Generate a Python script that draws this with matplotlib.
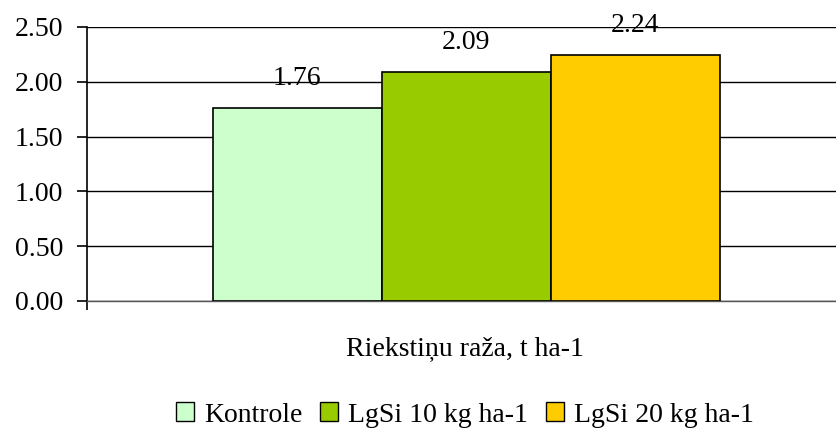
import matplotlib
matplotlib.use("Agg")
import matplotlib.pyplot as plt
from matplotlib.patches import Patch

plt.rcParams["font.family"] = ["Liberation Serif", "DejaVu Serif"]

variants = ["Kontrole", "LgSi 10 kg ha-1", "LgSi 20 kg ha-1"]
yields = [1.76, 2.09, 2.24]
colors = ["#CCFFCC", "#99CC00", "#FFCC00"]
yticks = [0.0, 0.5, 1.0, 1.5, 2.0, 2.5]
category = "Riekstiņu raža, t ha-1"

W, H = 836, 430
FS = 20
fig = plt.figure(figsize=(W / 100, H / 100), dpi=100)
ax = fig.add_axes([87 / W, 1 - 301 / H, (836 - 87) / W, (301 - 27) / H])

xs = range(len(yields))
ax.bar(xs, yields, width=1.0, color=colors, edgecolor="black", linewidth=1.2, zorder=3)
for x, v in zip(xs, yields):
    ax.annotate(f"{v:.2f}", (x, v), xytext=(0, 21.5), textcoords="offset points",
                ha="center", va="center", fontsize=FS, zorder=4)

ax.set_ylim(0, 2.5)
ax.set_xlim(-1.243, 3.189)
ax.set_yticks(yticks)
ax.set_yticklabels([f"{t:.2f}" for t in yticks], fontsize=FS)
ax.yaxis.grid(True, color="black", linewidth=1.0, zorder=0)
ax.tick_params(axis="y", direction="out", length=7, width=1.2, pad=10)
ax.set_xticks([-1.243])
ax.set_xticklabels([])
ax.tick_params(axis="x", direction="out", length=6.5, width=1.2)
for s in ("top", "right"):
    ax.spines[s].set_visible(False)
ax.spines["left"].set_linewidth(1.2)
ax.spines["bottom"].set_linewidth(1.0)
ax.spines["bottom"].set_color("#555555")

fig.text(465 / W, 1 - 349 / H, category, ha="center", va="center", fontsize=FS)

handles = [Patch(facecolor=c, edgecolor="black", linewidth=1.0) for c in colors]
fig.legend(handles, variants, loc="center", bbox_to_anchor=(465 / W, 1 - 415 / H),
           ncol=3, frameon=False, fontsize=FS, handlelength=0.65, handleheight=0.65,
           handletextpad=0.35, columnspacing=0.65, borderpad=0, borderaxespad=0)

fig.savefig("out.png", dpi=100)
